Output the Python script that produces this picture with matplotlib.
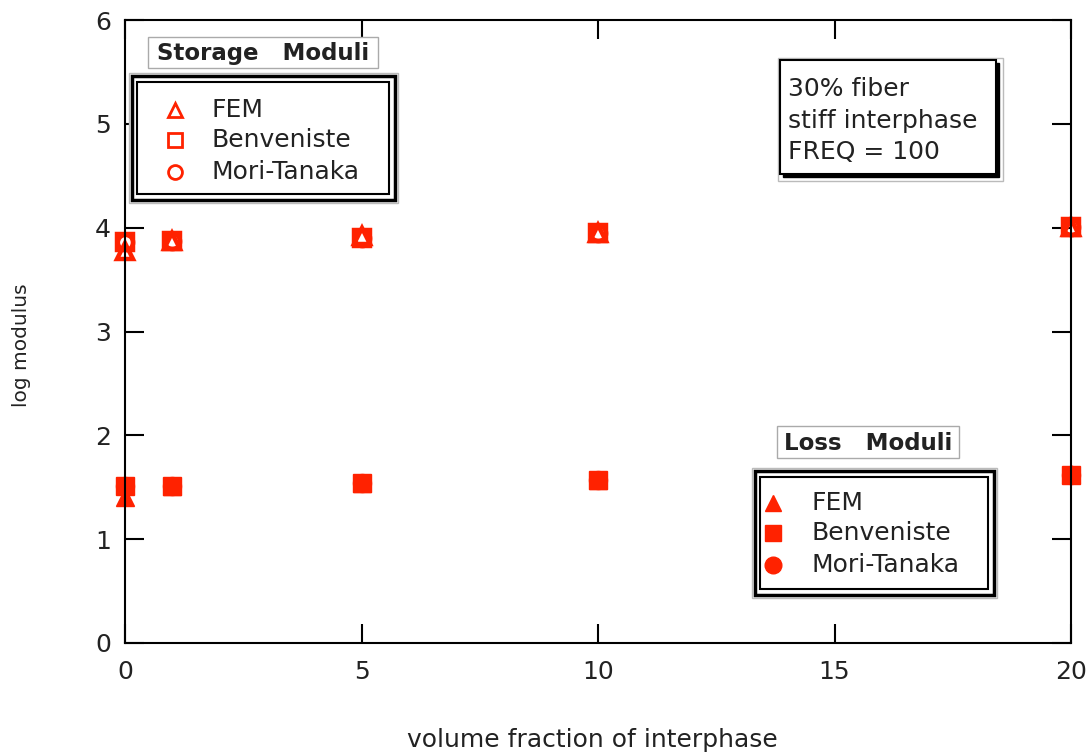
import matplotlib.pyplot as plt
from matplotlib.patches import Rectangle
import numpy as np

# data
vf = [0, 1, 5, 10, 20]
stor_fem = [3.78, 3.87, 3.92, 3.95, 4.01]
stor_benv = [3.86, 3.87, 3.90, 3.95, 4.01]
stor_mt = [3.86, 3.87, 3.90, 3.95, 4.01]
loss_fem = [1.41, 1.51, 1.54, 1.57, 1.63]
loss_benv = [1.51, 1.51, 1.54, 1.57, 1.62]
loss_mt = [1.51, 1.51, 1.54, 1.57, 1.62]

labels = ['FEM', 'Benveniste', 'Mori-Tanaka']
red = '#ff2200'
W, H = 1091, 755

plt.rcParams['font.family'] = ['DejaVu Sans']
fig = plt.figure(figsize=(W / 100, H / 100), dpi=100)
ax = fig.add_axes([125 / W, 1 - 643 / H, (1071 - 125) / W, (643 - 20) / H])


def fx(px):
    return px / W


def fy(py):
    return 1 - py / H


# storage moduli (open)
ax.plot(vf, stor_fem, '^', ms=11, mfc='none', mec=red, mew=3.2, ls='none', clip_on=False)
ax.plot(vf, stor_mt, 'o', ms=11, mfc='none', mec=red, mew=3.2, ls='none', clip_on=False)
ax.plot(vf, stor_benv, 's', ms=11, mfc='none', mec=red, mew=3.2, ls='none', clip_on=False)
# loss moduli (filled)
ax.plot(vf, loss_fem, '^', ms=13, color=red, ls='none', clip_on=False)
ax.plot(vf, loss_mt, 'o', ms=13, color=red, ls='none', clip_on=False)
ax.plot(vf, loss_benv, 's', ms=13, color=red, ls='none', clip_on=False)

ax.set_xlim(0, 20)
ax.set_ylim(0, 6)
ax.set_xticks([0, 5, 10, 15, 20])
ax.set_yticks([0, 1, 2, 3, 4, 5, 6])
ax.tick_params(direction='in', length=14, width=1.5, labelsize=18,
               top=True, right=True, labelcolor='#222222')
ax.tick_params(axis='x', pad=12)
ax.tick_params(axis='y', pad=10)
for s in ax.spines.values():
    s.set_linewidth(1.5)

fig.text(fx(22), fy(345), 'log modulus', rotation=90, ha='center', va='center',
         fontsize=14.5, color='#222222')
fig.text(fx(592), fy(740), 'volume fraction of interphase', ha='center',
         va='center', fontsize=18, color='#222222')


def rect(x0, y0, x1, y1, **kw):
    fig.add_artist(Rectangle((fx(x0), fy(y1)), fx(x1) - fx(x0), fy(y0) - fy(y1),
                             transform=fig.transFigure, **kw))


def legend_box(x0, y0, x1, y1):
    rect(x0, y0, x1, y1, fc='white', ec='#bbbbbb', lw=1, zorder=5)
    rect(x0 + 3, y0 + 3, x1 - 3, y1 - 3, fc='none', ec='black', lw=2.5, zorder=6)
    rect(x0 + 8, y0 + 9, x1 - 9, y1 - 9, fc='none', ec='black', lw=1.5, zorder=6)


def title_box(x0, y0, x1, y1, txt):
    rect(x0, y0, x1, y1, fc='white', ec='#aaaaaa', lw=1, zorder=5)
    fig.text(fx((x0 + x1) / 2), fy((y0 + y1) / 2 + 1), txt, ha='center',
             va='center', fontsize=16.5, fontweight='semibold', color='#222222',
             zorder=7)


# storage legend
title_box(148, 37, 378, 68, 'Storage   Moduli')
legend_box(129, 73, 398, 203)
for mk, yy, lab in zip(['^', 's', 'o'], [110, 140, 172], labels):
    fig.add_artist(plt.Line2D([fx(175)], [fy(yy)], marker=mk, ms=10, mfc='none',
                              mec=red, mew=2, transform=fig.transFigure,
                              zorder=7))
    fig.text(fx(212), fy(yy), lab, ha='left', va='center', fontsize=18,
             color='#222222', zorder=7)

# loss legend
title_box(777, 426, 959, 458, 'Loss   Moduli')
legend_box(752, 468, 997, 598)
for mk, yy, lab in zip(['^', 's', 'o'], [503, 533, 565], labels):
    fig.add_artist(plt.Line2D([fx(773)], [fy(yy)], marker=mk, ms=12, color=red,
                              transform=fig.transFigure, zorder=7))
    fig.text(fx(811), fy(yy), lab, ha='left', va='center', fontsize=18,
             color='#222222', zorder=7)

# info box with drop shadow
rect(778, 58, 1003, 181, fc='white', ec='#bbbbbb', lw=1, zorder=5)
rect(783, 63, 999, 177, fc='black', ec='black', lw=1, zorder=5)
rect(780, 60, 996, 174, fc='white', ec='black', lw=1.5, zorder=6)
for yy, t in zip([89, 121, 152], ['30% fiber', 'stiff interphase', 'FREQ = 100']):
    fig.text(fx(788), fy(yy), t, ha='left', va='center', fontsize=18,
             color='#222222', zorder=7)

fig.savefig('out.png', dpi=100)
